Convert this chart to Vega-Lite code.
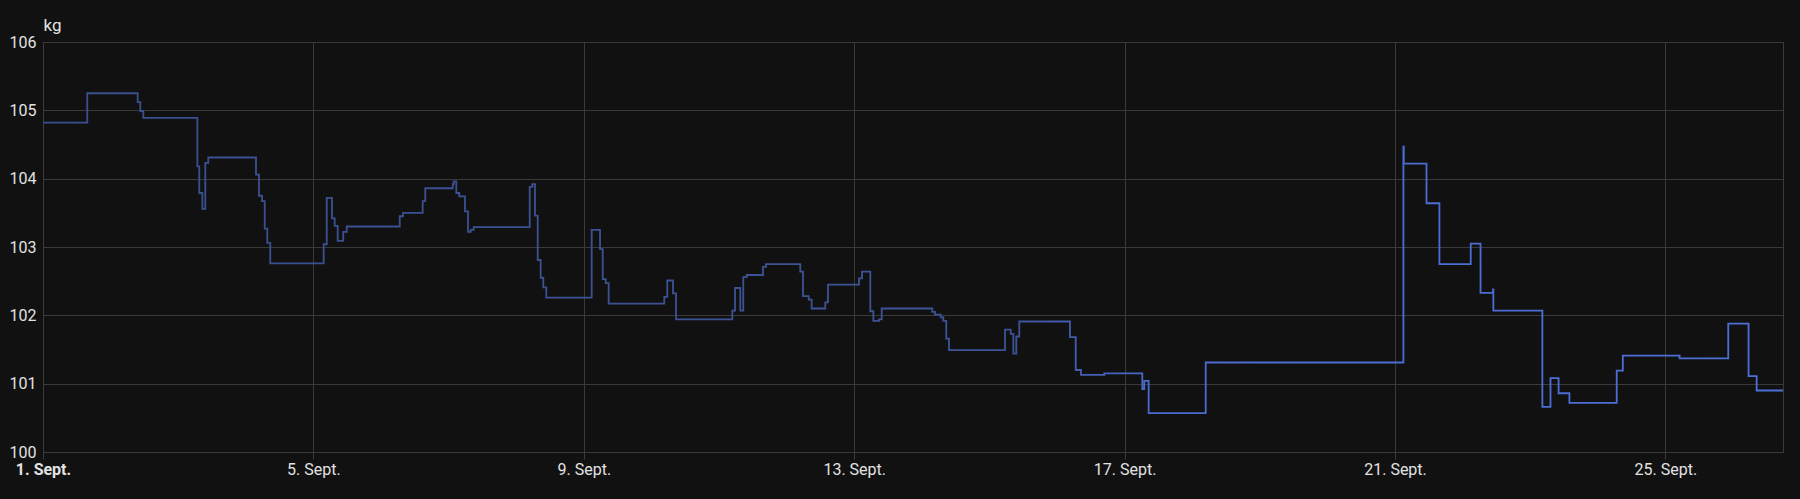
{
  "$schema": "https://vega.github.io/schema/vega-lite/v6.json",
  "autosize": "none",
  "width": 1740,
  "height": 410,
  "padding": {"left": 43, "top": 42, "right": 17, "bottom": 47},
  "background": "#111111",
  "config": {
    "view": {"stroke": "#3a3a3a", "strokeWidth": 1},
    "font": "Roboto"
  },
  "data": {"values": [
    {"t": "2023-09-01T00:00", "kg": 104.82},
    {"t": "2023-09-01T15:43", "kg": 105.25},
    {"t": "2023-09-02T09:37", "kg": 105.12},
    {"t": "2023-09-02T10:32", "kg": 104.99},
    {"t": "2023-09-02T11:37", "kg": 104.89},
    {"t": "2023-09-03T06:48", "kg": 104.18},
    {"t": "2023-09-03T07:29", "kg": 103.79},
    {"t": "2023-09-03T08:34", "kg": 103.56},
    {"t": "2023-09-03T09:37", "kg": 104.23},
    {"t": "2023-09-03T10:41", "kg": 104.31},
    {"t": "2023-09-04T03:37", "kg": 104.06},
    {"t": "2023-09-04T04:41", "kg": 103.75},
    {"t": "2023-09-04T05:46", "kg": 103.67},
    {"t": "2023-09-04T06:43", "kg": 103.27},
    {"t": "2023-09-04T07:38", "kg": 103.06},
    {"t": "2023-09-04T08:41", "kg": 102.76},
    {"t": "2023-09-05T03:39", "kg": 103.04},
    {"t": "2023-09-05T04:44", "kg": 103.72},
    {"t": "2023-09-05T06:36", "kg": 103.42},
    {"t": "2023-09-05T07:34", "kg": 103.31},
    {"t": "2023-09-05T08:37", "kg": 103.09},
    {"t": "2023-09-05T10:36", "kg": 103.22},
    {"t": "2023-09-05T11:50", "kg": 103.30},
    {"t": "2023-09-06T06:39", "kg": 103.45},
    {"t": "2023-09-06T07:48", "kg": 103.50},
    {"t": "2023-09-06T14:48", "kg": 103.67},
    {"t": "2023-09-06T15:43", "kg": 103.86},
    {"t": "2023-09-07T01:28", "kg": 103.92},
    {"t": "2023-09-07T01:48", "kg": 103.96},
    {"t": "2023-09-07T02:44", "kg": 103.79},
    {"t": "2023-09-07T03:48", "kg": 103.74},
    {"t": "2023-09-07T05:49", "kg": 103.52},
    {"t": "2023-09-07T06:53", "kg": 103.22},
    {"t": "2023-09-07T07:51", "kg": 103.25},
    {"t": "2023-09-07T08:54", "kg": 103.29},
    {"t": "2023-09-08T04:48", "kg": 103.88},
    {"t": "2023-09-08T05:43", "kg": 103.92},
    {"t": "2023-09-08T06:40", "kg": 103.46},
    {"t": "2023-09-08T07:38", "kg": 102.81},
    {"t": "2023-09-08T08:41", "kg": 102.55},
    {"t": "2023-09-08T09:37", "kg": 102.41},
    {"t": "2023-09-08T10:41", "kg": 102.26},
    {"t": "2023-09-09T02:48", "kg": 103.25},
    {"t": "2023-09-09T05:46", "kg": 102.97},
    {"t": "2023-09-09T06:43", "kg": 102.53},
    {"t": "2023-09-09T07:47", "kg": 102.47},
    {"t": "2023-09-09T08:50", "kg": 102.17},
    {"t": "2023-09-10T04:35", "kg": 102.27},
    {"t": "2023-09-10T05:38", "kg": 102.51},
    {"t": "2023-09-10T07:41", "kg": 102.32},
    {"t": "2023-09-10T08:44", "kg": 101.94},
    {"t": "2023-09-11T04:44", "kg": 102.07},
    {"t": "2023-09-11T05:41", "kg": 102.40},
    {"t": "2023-09-11T07:34", "kg": 102.07},
    {"t": "2023-09-11T08:37", "kg": 102.56},
    {"t": "2023-09-11T09:50", "kg": 102.59},
    {"t": "2023-09-11T15:37", "kg": 102.71},
    {"t": "2023-09-11T16:41", "kg": 102.75},
    {"t": "2023-09-12T04:52", "kg": 102.64},
    {"t": "2023-09-12T05:50", "kg": 102.28},
    {"t": "2023-09-12T07:51", "kg": 102.23},
    {"t": "2023-09-12T08:54", "kg": 102.10},
    {"t": "2023-09-12T13:44", "kg": 102.19},
    {"t": "2023-09-12T14:41", "kg": 102.45},
    {"t": "2023-09-13T01:42", "kg": 102.54},
    {"t": "2023-09-13T02:46", "kg": 102.64},
    {"t": "2023-09-13T05:43", "kg": 102.06},
    {"t": "2023-09-13T06:48", "kg": 101.92},
    {"t": "2023-09-13T08:48", "kg": 101.94},
    {"t": "2023-09-13T09:46", "kg": 102.10},
    {"t": "2023-09-14T03:43", "kg": 102.05},
    {"t": "2023-09-14T04:41", "kg": 102.01},
    {"t": "2023-09-14T06:43", "kg": 101.97},
    {"t": "2023-09-14T07:38", "kg": 101.92},
    {"t": "2023-09-14T08:41", "kg": 101.66},
    {"t": "2023-09-14T09:39", "kg": 101.49},
    {"t": "2023-09-15T05:33", "kg": 101.79},
    {"t": "2023-09-15T07:34", "kg": 101.73},
    {"t": "2023-09-15T08:30", "kg": 101.44},
    {"t": "2023-09-15T09:33", "kg": 101.69},
    {"t": "2023-09-15T10:36", "kg": 101.91},
    {"t": "2023-09-16T04:36", "kg": 101.68},
    {"t": "2023-09-16T06:39", "kg": 101.20},
    {"t": "2023-09-16T08:31", "kg": 101.13},
    {"t": "2023-09-16T16:48", "kg": 101.15},
    {"t": "2023-09-17T06:17", "kg": 100.92},
    {"t": "2023-09-17T06:59", "kg": 101.04},
    {"t": "2023-09-17T08:32", "kg": 100.57},
    {"t": "2023-09-18T04:48", "kg": 101.31},
    {"t": "2023-09-21T02:59", "kg": 104.47},
    {"t": "2023-09-21T03:07", "kg": 104.22},
    {"t": "2023-09-21T11:11", "kg": 103.64},
    {"t": "2023-09-21T15:46", "kg": 102.75},
    {"t": "2023-09-22T02:53", "kg": 103.05},
    {"t": "2023-09-22T06:22", "kg": 102.33},
    {"t": "2023-09-22T10:48", "kg": 102.38},
    {"t": "2023-09-22T10:55", "kg": 102.07},
    {"t": "2023-09-23T04:19", "kg": 100.66},
    {"t": "2023-09-23T07:12", "kg": 101.08},
    {"t": "2023-09-23T10:05", "kg": 100.86},
    {"t": "2023-09-23T13:55", "kg": 100.72},
    {"t": "2023-09-24T06:43", "kg": 101.19},
    {"t": "2023-09-24T08:53", "kg": 101.41},
    {"t": "2023-09-25T05:02", "kg": 101.37},
    {"t": "2023-09-25T22:19", "kg": 101.88},
    {"t": "2023-09-26T05:31", "kg": 101.11},
    {"t": "2023-09-26T08:24", "kg": 100.90},
    {"t": "2023-09-26T17:45", "kg": 100.91}
  ]},
  "mark": {
    "type": "line",
    "interpolate": "step-after",
    "strokeWidth": 1.8,
    "clip": true,
    "stroke": {
      "gradient": "linear",
      "x1": 0, "y1": 0, "x2": 1, "y2": 0,
      "stops": [
        {"offset": 0, "color": "#3a4f8e"},
        {"offset": 0.56, "color": "#3d5398"},
        {"offset": 0.64, "color": "#4a6bd0"},
        {"offset": 1, "color": "#4c6fd8"}
      ]
    }
  },
  "encoding": {
    "x": {
      "field": "t",
      "type": "temporal",
      "scale": {
        "domain": [
          {"year": 2023, "month": 9, "date": 1},
          {"year": 2023, "month": 9, "date": 26, "hours": 17, "minutes": 45}
        ]
      },
      "axis": {
        "title": null,
        "values": [
          {"year": 2023, "month": 9, "date": 1},
          {"year": 2023, "month": 9, "date": 5},
          {"year": 2023, "month": 9, "date": 9},
          {"year": 2023, "month": 9, "date": 13},
          {"year": 2023, "month": 9, "date": 17},
          {"year": 2023, "month": 9, "date": 21},
          {"year": 2023, "month": 9, "date": 25}
        ],
        "labelExpr": "timeFormat(datum.value, '%-d') + '. Sept.'",
        "labelFontWeight": {"condition": {"test": "date(datum.value) == 1", "value": "bold"}, "value": "normal"},
        "labelFont": "Roboto",
        "labelFontSize": 16,
        "labelColor": "#e2e2e2",
        "labelPadding": 2,
        "labelFlush": false,
        "labelOverlap": false,
        "domain": false,
        "ticks": true,
        "tickSize": 7,
        "tickColor": "#3a3a3a",
        "grid": true,
        "gridColor": "#3a3a3a",
        "gridWidth": 1
      }
    },
    "y": {
      "field": "kg",
      "type": "quantitative",
      "scale": {"domain": [100, 106], "nice": false, "zero": false},
      "axis": {
        "title": "kg",
        "titleAngle": 0,
        "titleAlign": "left",
        "titleBaseline": "alphabetic",
        "titleX": 0,
        "titleY": -12,
        "titleFont": "Roboto",
        "titleFontSize": 17,
        "titleFontWeight": "normal",
        "titleColor": "#e2e2e2",
        "values": [100, 101, 102, 103, 104, 105, 106],
        "labelFont": "Roboto",
        "labelFontSize": 16,
        "labelColor": "#e2e2e2",
        "labelPadding": 7,
        "domain": false,
        "ticks": false,
        "grid": true,
        "gridColor": "#3a3a3a",
        "gridWidth": 1
      }
    }
  }
}
